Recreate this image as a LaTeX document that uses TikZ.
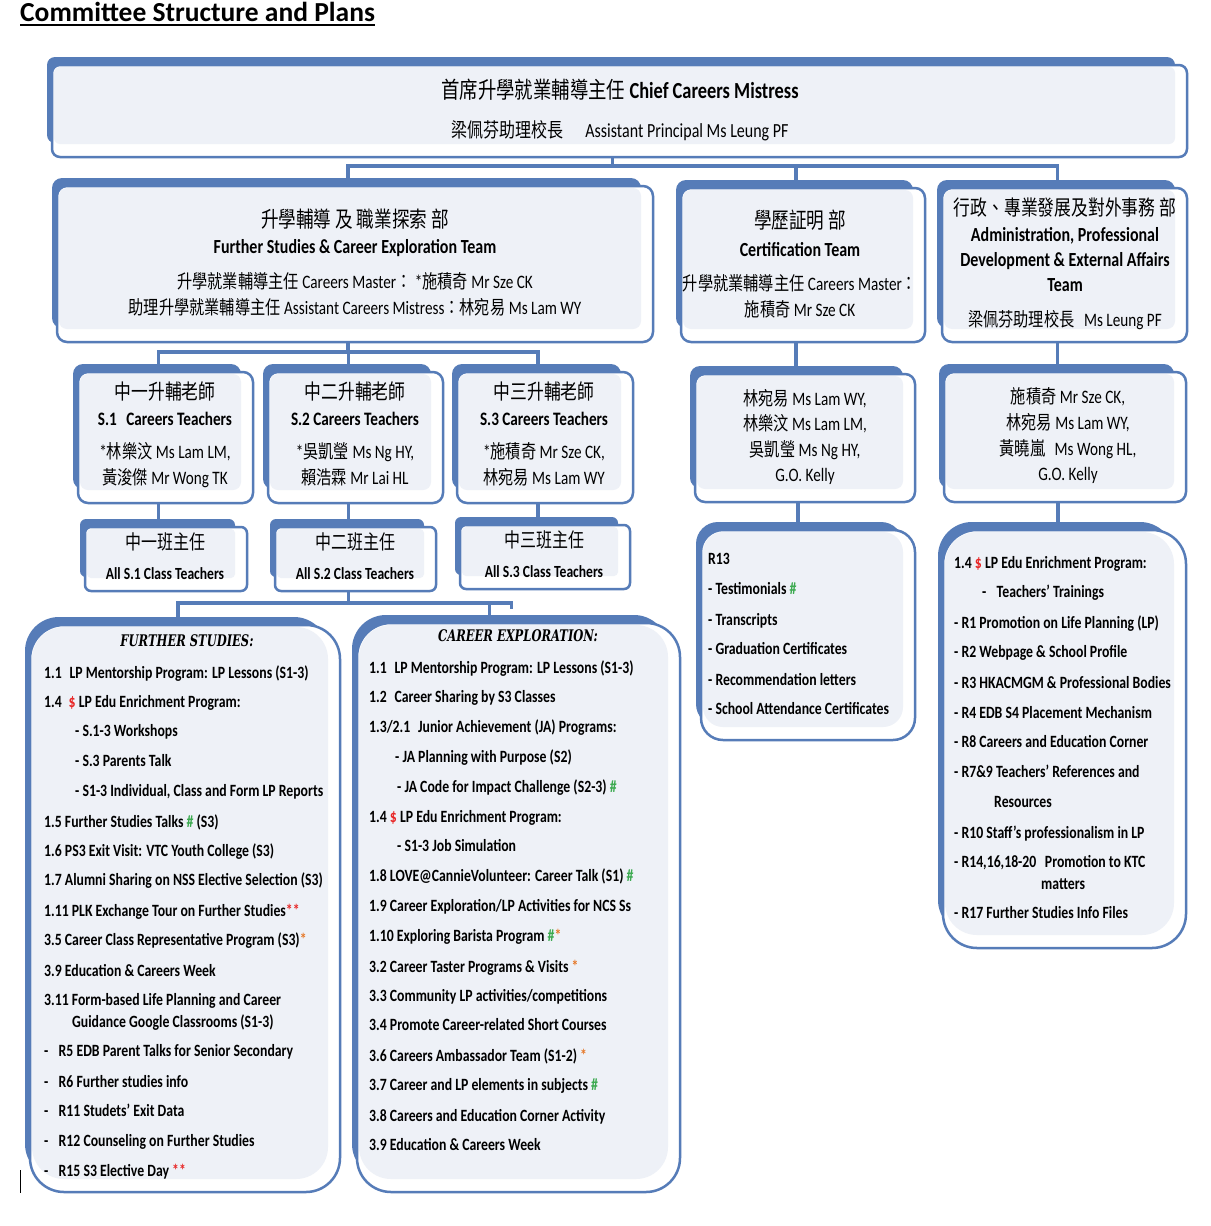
\documentclass[tikz,border=0pt]{standalone}
\usepackage{fontspec}
\usepackage{xcolor}
\setmainfont{Carlito}[FakeStretch=0.8]
\newfontfamily\cjk{Noto Sans CJK TC}[FakeStretch=0.8]
\newfontfamily\titlefont{Carlito}
\newfontfamily\deco{DejaVu Serif}[FakeStretch=0.72]
\usetikzlibrary{backgrounds}
\definecolor{bblue}{RGB}{86,124,184}
\definecolor{lfill}{RGB}{238,241,247}
\definecolor{mred}{RGB}{232,40,40}
\definecolor{mgreen}{RGB}{60,170,80}
\definecolor{morange}{RGB}{230,120,40}
\newcommand\zh[1]{{\cjk #1}}
\newcommand\dol{{\color{mred}\$}}
\newcommand\hsh{{\color{mgreen}\#}}
\newcommand\ost{{\color{morange}*}}
\newcommand\rst{{\color{mred}**}}
\tikzset{
  conn/.style={draw=bblue, line width=3.5pt},
  fbox/.style={draw=bblue, line width=2.5pt, fill=white, inner sep=0pt, outer sep=0pt},
  ct/.style={anchor=base, inner sep=0pt},
  lt/.style={anchor=base west, inner sep=0pt, font=\bfseries\fontsize{17.2}{20}\selectfont},
  hz/.style={ct, font=\fontsize{22}{24}\selectfont},
  hb/.style={ct, font=\bfseries\fontsize{20}{22}\selectfont},
  nm/.style={ct, font=\fontsize{19}{21}\selectfont},
  dh/.style={ct, font=\deco\bfseries\itshape\fontsize{16}{18}\selectfont},
}
% name x1 y1 x2 y2 radius
\newcommand\cbox[6]{%
  \pgfmathsetmacro\cbw{#4-#2}%
  \pgfmathsetmacro\cbh{#5-#3}%
  \pgfmathsetmacro\cbr{#6-2}%
  \fill[bblue, rounded corners=#6pt] ({#2-5},{#3-8}) rectangle ({#4-12},{#5-14});
  \node[fbox, rounded corners=#6pt, minimum width=\cbw pt, minimum height=\cbh pt] (#1) at ({(#2+#4)/2},{(#3+#5)/2}) {};
  \fill[lfill, rounded corners=\cbr pt] ({#2+2},{#3+2}) rectangle ({#4-12},{#5-13});
}
\begin{document}
\begin{tikzpicture}[x=1pt,y=-1pt]
\useasboundingbox (0,0) rectangle (1210,1226);

% title
\node[anchor=base west, inner sep=0pt, font=\titlefont\bfseries\fontsize{27.5}{30}\selectfont] (title) at (20,21) {Committee Structure and Plans};
\draw[line width=2pt] ([yshift=-4pt]title.base west) -- ([yshift=-4pt]title.base east);

% boxes
\cbox{top}{52}{65}{1187}{157}{8}
\cbox{fs}{57}{186}{653}{342}{10}
\cbox{cert}{681}{188}{925}{342}{10}
\cbox{adm}{942}{188}{1187}{342}{10}
\cbox{s1t}{78}{372}{253}{503}{10}
\cbox{s2t}{268}{372}{443}{503}{10}
\cbox{s3t}{457}{372}{633}{503}{10}
\cbox{s1c}{85}{527}{247}{591}{6}
\cbox{s2c}{275}{527}{436}{591}{6}
\cbox{s3c}{460}{525}{630}{589}{6}
\cbox{cnm}{695}{374}{915}{502}{10}
\cbox{anm}{944}{372}{1186}{502}{10}
\cbox{fsl}{30}{625}{340}{1192}{34}
\cbox{cel}{357}{623}{680}{1192}{34}
\cbox{rtt}{701}{530}{915}{740}{22}
\cbox{adl}{943}{530}{1186}{948}{34}

% connectors (behind)
\begin{pgfonlayer}{background}
\fill[white] (0,0) rectangle (1210,1226);
\draw[conn] ([xshift=-7pt]top.south) -- ++(0,9) coordinate (busA);
\draw[conn] ([xshift=-7pt]fs.north) |- (busA) -| ([xshift=-7pt]adm.north);
\draw[conn] ([xshift=-7pt]cert.north) -- ([xshift=-7pt]cert.north |- busA);
\draw[conn] ([xshift=-7pt]fs.south) -- ++(0,10) coordinate (busB);
\draw[conn] ([xshift=-7pt]s1t.north) |- (busB) -| ([xshift=-7pt]s3t.north);
\draw[conn] ([xshift=-7pt]s2t.north) -- ([xshift=-7pt]s2t.north |- busB);
\draw[conn] ([xshift=-7pt]s1t.south) -- ([xshift=-7pt]s1t.south |- s1c.north);
\draw[conn] ([xshift=-7pt]s2t.south) -- ([xshift=-7pt]s2t.south |- s2c.north);
\draw[conn] ([xshift=-7pt]s3t.south) -- ([xshift=-7pt]s3t.south |- s3c.north);
\draw[conn] ([xshift=-7pt]s2c.south) -- ++(0,12) coordinate (busC);
\draw[conn] ([xshift=-7pt]fsl.north) |- (busC) -| ([xshift=-7pt,yshift=-6pt]cel.north |- busC);
\draw[conn] ([xshift=-29pt]cel.north) -- ([xshift=-29pt]cel.north |- busC);
\draw[conn] ([xshift=-7pt]cert.south) -- ([xshift=-7pt]cert.south |- cnm.north);
\draw[conn] ([xshift=-7pt]cnm.south) -- ([xshift=-7pt]cnm.south |- rtt.north);
\draw[conn] ([xshift=-7pt]adm.south) -- ([xshift=-7pt]adm.south |- anm.north);
\draw[conn] ([xshift=-7pt]anm.south) -- ([xshift=-7pt]anm.south |- adl.north);
\end{pgfonlayer}

% top box text
\node[ct, font=\fontsize{23}{25}\selectfont] (t1) at (620,98) {\zh{首席升學就業輔導主任} \textbf{Chief Careers Mistress}};
\node[ct, font=\fontsize{20}{22}\selectfont] (t2) at (620,137) {\zh{梁佩芬助理校長}\hspace{22pt}Assistant Principal Ms Leung PF};

% further studies & career exploration team
\node[hz] (f1) at (355,227) {\zh{升學輔導 及 職業探索 部}};
\node[hb] (f2) at (355,253) {Further Studies \& Career Exploration Team};
\node[nm] (f3) at (355,288) {\zh{升學就業輔導主任} Careers Master\zh{：} *\zh{施積奇} Mr Sze CK};
\node[nm] (f4) at (355,314) {\zh{助理升學就業輔導主任} Assistant Careers Mistress\zh{：林宛易} Ms Lam WY};

% certification team
\node[hz] (c1) at (800,228) {\zh{學歷証明 部}};
\node[hb] (c2) at (800,256) {Certification Team};
\node[nm] (c3) at (800,290) {\zh{升學就業輔導主任} Careers Master\zh{：}};
\node[nm] (c4) at (800,316) {\zh{施積奇} Mr Sze CK};

% administration team
\node[ct, font=\fontsize{21}{23}\selectfont] (a1) at (1065,215) {\zh{行政、專業發展及對外事務 部}};
\node[hb] (a2) at (1065,241) {Administration, Professional};
\node[hb] (a3) at (1065,266) {Development \& External Affairs};
\node[hb] (a4) at (1065,291) {Team};
\node[nm] (a5) at (1065,326) {\zh{梁佩芬助理校長}\hspace{0.5em}Ms Leung PF};

% S careers teachers
\node[ct, font=\fontsize{21}{23}\selectfont] (p1) at (165,399) {\zh{中一升輔老師}};
\node[ct, font=\bfseries\fontsize{19}{21}\selectfont] (p2) at (165,425) {S.1\hspace{0.5em}Careers Teachers};
\node[nm] (p3) at (165,458) {*\zh{林樂汶} Ms Lam LM,};
\node[nm] (p4) at (165,484) {\zh{黃浚傑} Mr Wong TK};
\node[ct, font=\fontsize{21}{23}\selectfont] (q1) at (355,399) {\zh{中二升輔老師}};
\node[ct, font=\bfseries\fontsize{19}{21}\selectfont] (q2) at (355,425) {S.2 Careers Teachers};
\node[nm] (q3) at (355,458) {*\zh{吳凱瑩} Ms Ng HY,};
\node[nm] (q4) at (355,484) {\zh{賴浩霖} Mr Lai HL};
\node[ct, font=\fontsize{21}{23}\selectfont] (r1) at (544,399) {\zh{中三升輔老師}};
\node[ct, font=\bfseries\fontsize{19}{21}\selectfont] (r2) at (544,425) {S.3 Careers Teachers};
\node[nm] (r3) at (544,458) {*\zh{施積奇} Mr Sze CK,};
\node[nm] (r4) at (544,484) {\zh{林宛易} Ms Lam WY};

% class teachers
\node[ct, font=\fontsize{20}{22}\selectfont] (u1) at (165,549) {\zh{中一班主任}};
\node[ct, font=\bfseries\fontsize{17}{19}\selectfont] (u2) at (165,579) {All S.1 Class Teachers};
\node[ct, font=\fontsize{20}{22}\selectfont] (v1) at (355,549) {\zh{中二班主任}};
\node[ct, font=\bfseries\fontsize{17}{19}\selectfont] (v2) at (355,579) {All S.2 Class Teachers};
\node[ct, font=\fontsize{20}{22}\selectfont] (w1) at (544,547) {\zh{中三班主任}};
\node[ct, font=\bfseries\fontsize{17}{19}\selectfont] (w2) at (544,577) {All S.3 Class Teachers};

% certification names
\node[nm] (cn1) at (805,405) {\zh{林宛易} Ms Lam WY,};
\node[nm] (cn2) at (805,430) {\zh{林樂汶} Ms Lam LM,};
\node[nm] (cn3) at (805,456) {\zh{吳凱瑩} Ms Ng HY,};
\node[nm] (cn4) at (805,481) {G.O. Kelly};

% admin names
\node[nm] (an1) at (1068,403) {\zh{施積奇} Mr Sze CK,};
\node[nm] (an2) at (1068,429) {\zh{林宛易} Ms Lam WY,};
\node[nm] (an3) at (1068,455) {\zh{黃曉嵐}\hspace{0.5em}Ms Wong HL,};
\node[nm] (an4) at (1068,480) {G.O. Kelly};

% further studies list
\node[dh] (fsh) at (187,646) {FURTHER STUDIES:};
\node[lt] (fs1) at (44,678) {1.1\hspace{0.45em}LP Mentorship Program: LP Lessons (S1-3)};
\node[lt] (fs2) at (44,707) {1.4\hspace{0.4em}\dol\ LP Edu Enrichment Program:};
\node[lt] (fs3) at (75,736) {- S.1-3 Workshops};
\node[lt] (fs4) at (75,766) {- S.3 Parents Talk};
\node[lt] (fs5) at (75,796) {- S1-3 Individual, Class and Form LP Reports};
\node[lt] (fs6) at (44,827) {1.5 Further Studies Talks \hsh\ (S3)};
\node[lt] (fs7) at (44,856) {1.6 PS3 Exit Visit: VTC Youth College (S3)};
\node[lt] (fs8) at (44,885) {1.7 Alumni Sharing on NSS Elective Selection (S3)};
\node[lt] (fs9) at (44,916) {1.11 PLK Exchange Tour on Further Studies\rst};
\node[lt] (fs10) at (44,945) {3.5 Career Class Representative Program (S3)\ost};
\node[lt] (fs11) at (44,976) {3.9 Education \& Careers Week};
\node[lt] (fs12) at (44,1005) {3.11 Form-based Life Planning and Career};
\node[lt] (fs13) at (72,1027) {Guidance Google Classrooms (S1-3)};
\node[lt] (fs14) at (44,1056) {-\hspace{0.6em}R5 EDB Parent Talks for Senior Secondary};
\node[lt] (fs15) at (44,1087) {-\hspace{0.6em}R6 Further studies info};
\node[lt] (fs16) at (44,1116) {-\hspace{0.6em}R11 Studets' Exit Data};
\node[lt] (fs17) at (44,1146) {-\hspace{0.6em}R12 Counseling on Further Studies};
\node[lt] (fs18) at (44,1176) {-\hspace{0.6em}R15 S3 Elective Day \rst};

% career exploration list
\node[dh] (ceh) at (518,641) {CAREER EXPLORATION:};
\node[lt] (ce1) at (369,673) {1.1\hspace{0.45em}LP Mentorship Program: LP Lessons (S1-3)};
\node[lt] (ce2) at (369,702) {1.2\hspace{0.45em}Career Sharing by S3 Classes};
\node[lt] (ce3) at (369,732) {1.3/2.1\hspace{0.45em}Junior Achievement (JA) Programs:};
\node[lt] (ce4) at (395,762) {- JA Planning with Purpose (S2)};
\node[lt] (ce5) at (397,792) {- JA Code for Impact Challenge (S2-3) \hsh};
\node[lt] (ce6) at (369,822) {1.4 \dol\ LP Edu Enrichment Program:};
\node[lt] (ce7) at (397,851) {- S1-3 Job Simulation};
\node[lt] (ce8) at (369,881) {1.8 LOVE@CannieVolunteer: Career Talk (S1) \hsh};
\node[lt] (ce9) at (369,911) {1.9 Career Exploration/LP Activities for NCS Ss};
\node[lt] (ce10) at (369,941) {1.10 Exploring Barista Program \hsh\ost};
\node[lt] (ce11) at (369,972) {3.2 Career Taster Programs \& Visits \ost};
\node[lt] (ce12) at (369,1001) {3.3 Community LP activities/competitions};
\node[lt] (ce13) at (369,1030) {3.4 Promote Career-related Short Courses};
\node[lt] (ce14) at (369,1061) {3.6 Careers Ambassador Team (S1-2) \ost};
\node[lt] (ce15) at (369,1090) {3.7 Career and LP elements in subjects \hsh};
\node[lt] (ce16) at (369,1121) {3.8 Careers and Education Corner Activity};
\node[lt] (ce17) at (369,1150) {3.9 Education \& Careers Week};

% R13 list
\node[lt] (rt1) at (708,564) {R13};
\node[lt] (rt2) at (708,594) {- Testimonials \hsh};
\node[lt] (rt3) at (708,625) {- Transcripts};
\node[lt] (rt4) at (708,654) {- Graduation Certificates};
\node[lt] (rt5) at (708,685) {- Recommendation letters};
\node[lt] (rt6) at (708,714) {- School Attendance Certificates};

% admin list
\node[lt] (ad1) at (954,568) {1.4 \dol\ LP Edu Enrichment Program:};
\node[lt] (ad2) at (982,597) {-\hspace{0.6em}Teachers' Trainings};
\node[lt] (ad3) at (954,628) {- R1 Promotion on Life Planning (LP)};
\node[lt] (ad4) at (954,657) {- R2 Webpage \& School Profile};
\node[lt] (ad5) at (954,688) {- R3 HKACMGM \& Professional Bodies};
\node[lt] (ad6) at (954,718) {- R4 EDB S4 Placement Mechanism};
\node[lt] (ad7) at (954,747) {- R8 Careers and Education Corner};
\node[lt] (ad8) at (954,777) {- R7\&9 Teachers' References and};
\node[lt] (ad9) at (994,807) {Resources};
\node[lt] (ad10) at (954,838) {- R10 Staff’s professionalism in LP};
\node[lt] (ad11) at (954,867) {- R14,16,18-20\hspace{0.5em}Promotion to KTC};
\node[lt] (ad12) at (1041,889) {matters};
\node[lt] (ad13) at (954,918) {- R17 Further Studies Info Files};

% stray cursor mark
\draw[black, line width=1pt] (20.5,1170) -- (20.5,1193);
\end{tikzpicture}
\end{document}
